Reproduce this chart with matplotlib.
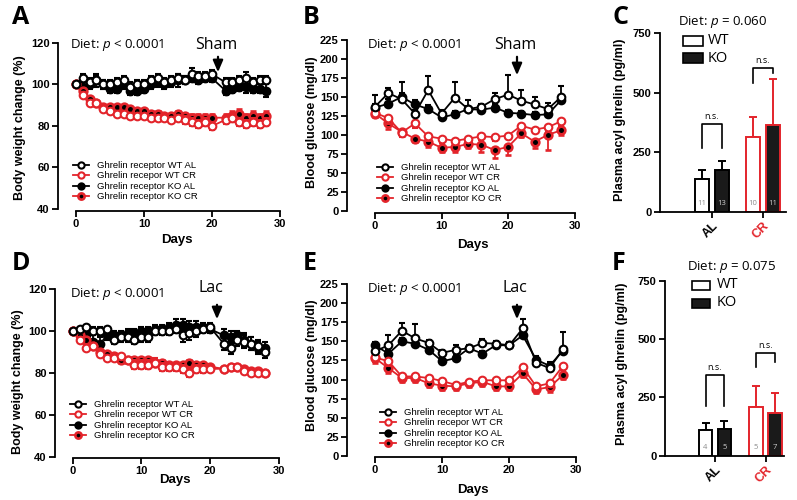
import matplotlib
matplotlib.use("Agg")
import matplotlib.pyplot as plt
from matplotlib.lines import Line2D

plt.rcParams['font.family'] = ['Liberation Sans', 'DejaVu Sans']
plt.rcParams['mathtext.fontset'] = 'custom'
plt.rcParams['mathtext.rm'] = 'Open Sans'
plt.rcParams['mathtext.it'] = 'Open Sans:italic'

RED = '#e3242b'

# ---------------- data ----------------
days_w = list(range(0, 21)) + list(range(22, 29))
days_g = list(range(0, 29, 2))

# A: body weight, sham
a_wt_al = [100, 103, 101, 102, 100, 100, 101, 102, 99, 100, 100, 102, 103, 101, 102, 103, 102, 105, 104, 104, 105,
           101, 101, 102, 103, 101, 102, 102]
a_wt_al_err = [0, 2, 2, 2, 2, 2, 2, 2, 2, 2, 2, 2, 2, 2, 2, 2, 2, 3, 2, 2, 2, 2, 2, 2, 3, 2, 2, 2]
a_ko_al = [100, 99, 100, 102, 100, 98, 98, 100, 97, 97, 98, 100, 101, 100, 101, 102, 102, 103, 102, 103, 103,
           97, 98, 99, 99, 98, 98, 97]
a_ko_al_err = [0, 2, 2, 3, 2, 2, 2, 2, 2, 2, 2, 2, 2, 2, 2, 3, 2, 2, 2, 2, 2, 2, 2, 2, 3, 2, 2, 3]
a_wt_cr = [100, 95, 91, 91, 88, 87, 86, 86, 85, 85, 85, 84, 84, 84, 83, 84, 83, 82, 81, 82, 80,
           83, 84, 82, 81, 82, 81, 82]
a_wt_cr_err = [0, 1, 1, 1, 1, 1, 1, 1, 1, 1, 1, 1, 1, 1, 1, 1, 2, 2, 2, 2, 2, 2, 2, 2, 2, 2, 2, 2]
a_ko_cr = [100, 97, 93, 91, 89, 89, 89, 89, 88, 87, 87, 86, 86, 85, 85, 86, 85, 84, 84, 84, 84,
           84, 85, 86, 84, 85, 84, 85]
a_ko_cr_err = [0, 1, 1, 1, 1, 1, 1, 1, 1, 1, 1, 1, 1, 1, 1, 1, 1, 2, 2, 2, 2, 2, 2, 2, 2, 2, 2, 2]

# B: blood glucose, sham
b_wt_al = [137, 155, 147, 128, 159, 128, 149, 134, 137, 147, 153, 145, 140, 134, 150]
b_wt_al_err = [16, 7, 22, 5, 18, 5, 21, 12, 4, 8, 26, 14, 10, 8, 14]
b_ko_al = [136, 141, 150, 140, 134, 123, 127, 134, 133, 136, 129, 128, 126, 127, 146]
b_ko_al_err = [5, 6, 5, 6, 5, 4, 4, 4, 4, 4, 4, 4, 4, 4, 5]
b_wt_cr = [129, 122, 103, 115, 98, 95, 92, 95, 98, 97, 99, 112, 107, 110, 118]
b_wt_cr_err = [6, 8, 6, 6, 6, 6, 5, 5, 5, 5, 5, 5, 5, 6, 6]
b_ko_cr = [128, 115, 104, 95, 91, 83, 84, 88, 87, 80, 84, 102, 91, 100, 106]
b_ko_cr_err = [5, 7, 5, 4, 7, 6, 6, 5, 9, 10, 11, 5, 8, 20, 6]

# C: plasma acyl ghrelin, sham
groups = ['AL', 'CR']
c_wt = [137, 315]
c_wt_err = [40, 85]
c_ko = [175, 365]
c_ko_err = [38, 195]
c_n_wt = ['11', '10']
c_n_ko = ['13', '11']

# D: body weight, lactation
d_wt_al = [100, 101, 102, 100, 100, 101, 96, 97, 97, 96, 97, 97, 100, 100, 100, 101, 98, 99, 100, 101, 102,
           94, 92, 96, 95, 94, 93, 90]
d_wt_al_err = [0, 1, 1, 2, 2, 1, 2, 2, 2, 2, 2, 2, 2, 2, 2, 2, 3, 3, 3, 2, 2, 3, 3, 3, 3, 3, 3, 3]
d_ko_al = [100, 99, 98, 95, 94, 98, 98, 98, 99, 99, 100, 100, 101, 101, 102, 103, 103, 102, 102, 102, 101,
           98, 97, 98, 96, 94, 92, 92]
d_ko_al_err = [0, 1, 2, 3, 3, 2, 2, 2, 2, 2, 2, 2, 2, 2, 2, 3, 3, 3, 3, 2, 2, 3, 3, 2, 3, 3, 3, 3]
d_wt_cr = [100, 96, 92, 93, 89, 87, 87, 88, 86, 84, 84, 84, 85, 83, 83, 83, 82, 80, 82, 82, 82,
           82, 83, 83, 81, 80, 80, 80]
d_wt_cr_err = [0, 1, 1, 1, 1, 1, 1, 1, 1, 2, 2, 2, 2, 2, 2, 2, 2, 2, 2, 2, 1, 1, 1, 1, 1, 1, 1, 1]
d_ko_cr = [100, 98, 96, 93, 90, 89, 88, 86, 86, 86, 86, 86, 85, 85, 84, 84, 84, 85, 84, 84, 83,
           82, 83, 83, 82, 81, 81, 80]
d_ko_cr_err = [0, 1, 1, 1, 1, 1, 1, 1, 1, 1, 1, 1, 1, 1, 1, 1, 1, 1, 1, 1, 1, 1, 1, 1, 1, 1, 1, 1]

# E: blood glucose, lactation
e_wt_al = [137, 145, 164, 154, 148, 135, 139, 141, 148, 147, 145, 167, 122, 115, 140]
e_wt_al_err = [5, 13, 10, 19, 4, 4, 6, 4, 5, 4, 4, 13, 8, 5, 23]
e_ko_al = [145, 134, 150, 147, 139, 124, 128, 141, 134, 145, 145, 158, 126, 118, 138]
e_ko_al_err = [4, 5, 4, 4, 4, 4, 4, 4, 4, 4, 4, 5, 5, 5, 5]
e_wt_cr = [129, 124, 104, 104, 102, 98, 93, 97, 99, 99, 99, 116, 91, 95, 118]
e_wt_cr_err = [6, 6, 5, 5, 5, 7, 6, 6, 5, 6, 6, 5, 6, 5, 6]
e_ko_cr = [128, 115, 102, 102, 95, 92, 91, 95, 97, 91, 91, 108, 87, 90, 106]
e_ko_cr_err = [6, 7, 5, 5, 5, 6, 5, 5, 5, 5, 5, 5, 5, 6, 5]

# F: plasma acyl ghrelin, lactation
f_wt = [110, 207]
f_wt_err = [30, 90]
f_ko = [115, 182]
f_ko_err = [35, 85]
f_n_wt = ['4', '5']
f_n_ko = ['5', '7']

labels = ['Ghrelin receptor WT AL', 'Ghrelin recepor WT CR',
          'Ghrelin receptor KO AL', 'Ghrelin receptor KO CR']

# ---------------- layout helpers ----------------
W, H = 797, 500
fig = plt.figure(figsize=(W / 100, H / 100), dpi=100)


def fx(x):
    return x / W


def fy(y):
    return 1 - y / H


def make_ax(box, xmap, ymap):
    l, r, t, b = box
    ax = fig.add_axes([fx(l), fy(b), (r - l) / W, (b - t) / H])
    (px0, v0), (px1, v1) = xmap
    s = (v1 - v0) / (px1 - px0)
    ax.set_xlim(v0 + (l - px0) * s, v0 + (r - px0) * s)
    (py0, w0), (py1, w1) = ymap
    s = (w1 - w0) / (py1 - py0)
    ax.set_ylim(w0 + (b - py0) * s, w0 + (t - py0) * s)
    for side in ['top', 'right']:
        ax.spines[side].set_visible(False)
    for side in ['left', 'bottom']:
        ax.spines[side].set_linewidth(1.3)
    ax.tick_params(width=1.3, length=4, labelsize=8, pad=2)
    return ax


def style_ticks(ax):
    for lbl in ax.get_xticklabels() + ax.get_yticklabels():
        lbl.set_fontweight('bold')


styles = [
    dict(color='black', mfc='white', mec='black', mew=1.5, z=4),
    dict(color=RED, mfc='white', mec=RED, mew=1.5, z=3),
    dict(color='black', mfc='black', mec='black', mew=1.5, z=2),
    dict(color=RED, mfc='black', mec=RED, mew=1.9, z=2),
]


def series(ax, x, y, err, st, updown, ms):
    if updown == 'up':
        yerr = [[0] * len(err), err]
    elif updown == 'down':
        yerr = [err, [0] * len(err)]
    else:
        yerr = err
    ax.errorbar(x, y, yerr=yerr, color=st['color'], lw=1.3, marker='o', ms=ms,
                mfc=st['mfc'], mec=st['mec'], mew=st['mew'], capsize=2.5, capthick=1.3,
                elinewidth=1.3, zorder=st['z'], clip_on=False)


def legend(ax, x, y):
    handles = [Line2D([], [], color=st['color'], lw=1.3, marker='o', ms=4.5,
                      mfc=st['mfc'], mec=st['mec'], mew=st['mew']) for st in styles]
    fig.legend(handles, labels, loc='upper left', bbox_to_anchor=(fx(x), fy(y)),
               frameon=False, handlelength=1.7, handletextpad=0.8,
               labelspacing=0.15, borderpad=0, borderaxespad=0,
               prop=dict(family='Liberation Sans', size=6.8, weight='normal'))


def note(x, y, s, size=9, **kw):
    fig.text(fx(x), fy(y), s, fontsize=size, family='Open Sans', fontweight='normal',
             va='center', **kw)


def arrow(x, y0, y1):
    fig.add_artist(matplotlib.patches.FancyArrowPatch(
        (fx(x), fy(y0)), (fx(x), fy(y1)), transform=fig.transFigure,
        arrowstyle='-|>,head_width=3,head_length=7', color='black', lw=1.6,
        mutation_scale=1))


def box_key(x, y, w, h, fc):
    fig.patches.append(matplotlib.patches.Rectangle((fx(x), fy(y + h / 2)), w / W, h / H,
                       transform=fig.transFigure, facecolor=fc, edgecolor='black', lw=1.2))


def time_panel(box, xmap, ymap, yb, yticks, x, data, updown, ms):
    ax = make_ax(box, xmap, ymap)
    ax.spines['left'].set_bounds(*yb)
    ax.spines['bottom'].set_bounds(0, 30)
    ax.set_xticks([0, 10, 20, 30])
    ax.set_yticks(yticks)
    style_ticks(ax)
    for (y, e), st, ud in zip(data, styles, updown):
        series(ax, x, y, e, st, ud, ms)
    return ax


def bar_panel(box, xmap, ymap, wt, wterr, ko, koerr, nwt, nko, brackets, off):
    ax = make_ax(box, xmap, ymap)
    ax.spines['left'].set_bounds(0, 750)
    ax.set_yticks([0, 250, 500, 750])
    ax.set_xticks([0, 1])
    ax.set_xticklabels(groups, rotation=45, ha='right', va='top',
                       rotation_mode='anchor', fontsize=9, fontweight='bold')
    ax.get_xticklabels()[1].set_color(RED)
    style_ticks(ax)
    w = 0.26
    for i in range(2):
        col = 'black' if i == 0 else RED
        ax.bar(i - off, wt[i], w, color='white', edgecolor=col, lw=1.4, zorder=2)
        ax.bar(i + off, ko[i], w, color='#1a1a1a', edgecolor=col, lw=1.4, zorder=2)
        ax.errorbar(i - off, wt[i], yerr=[[0], [wterr[i]]], color=col, capsize=3,
                    elinewidth=1.4, capthick=1.4, zorder=1)
        ax.errorbar(i + off, ko[i], yerr=[[0], [koerr[i]]], color=col, capsize=3,
                    elinewidth=1.4, capthick=1.4, zorder=1)
        ax.text(i - off, 35, nwt[i], ha='center', va='center', fontsize=5.5,
                color='#8a8a8a', family='Open Sans')
        ax.text(i + off, 35, nko[i], ha='center', va='center', fontsize=5.5,
                color='#cfcfcf', family='Open Sans')
        top, l1, l2, ty = brackets[i]
        ax.plot([i - off, i - off, i + off, i + off], [l1, top, top, l2],
                color='black', lw=1.2, clip_on=False)
        ax.text(i, ty, 'n.s.', ha='center', va='center', fontsize=6.5, family='Open Sans')
    return ax


def ylab(x, y, s):
    fig.text(fx(x), fy(y), s, rotation=90, ha='center', va='center',
             fontsize=9, fontweight='bold')


def xlab(x, y, s):
    fig.text(fx(x), fy(y), s, ha='center', va='center', fontsize=9.5, fontweight='bold')


# ---------------- A ----------------
ax = time_panel((58, 283, 41, 211), ((76, 0), (212, 20)), ((209, 40), (43, 120)),
                (40, 120), [40, 60, 80, 100, 120], days_w,
                [(a_wt_al, a_wt_al_err), (a_wt_cr, a_wt_cr_err),
                 (a_ko_al, a_ko_al_err), (a_ko_cr, a_ko_cr_err)],
                ['both', 'both', 'both', 'both'], 5.5)
legend(ax, 73, 161)
ylab(20, 128, 'Body weight change (%)')
xlab(177, 240, 'Days')
note(70, 45, r'Diet: $\it{p}$ < 0.0001', 9.5)
note(216, 45, 'Sham', 11.5, ha='center')
arrow(218, 54, 75)

# ---------------- B ----------------
ax = time_panel((347, 577, 38, 213), ((375, 0), (508, 20)), ((210.7, 0), (40, 225)),
                (0, 225), list(range(0, 226, 25)), days_g,
                [(b_wt_al, b_wt_al_err), (b_wt_cr, b_wt_cr_err),
                 (b_ko_al, b_ko_al_err), (b_ko_cr, b_ko_cr_err)],
                ['up', 'down', 'up', 'down'], 5.5)
legend(ax, 377, 163)
ylab(312, 122, 'Blood glucose (mg/dl)')
xlab(473, 245, 'Days')
note(367, 45, r'Diet: $\it{p}$ < 0.0001', 9.5)
note(515, 45, 'Sham', 11.5, ha='center')
arrow(517, 54, 78)

# ---------------- C ----------------
bar_panel((660, 786, 30, 212), ((712, 0), (763, 1)), ((212, 0), (33.3, 750)),
          c_wt, c_wt_err, c_ko, c_ko_err, c_n_wt, c_n_ko,
          [(369, 268, 268, 400), (603, 540, 582, 636)], 0.196)
ylab(620, 120, 'Plasma acyl ghrelin (pg/ml)')
note(678, 22, r'Diet: $\it{p}$ = 0.060', 9.5)
box_key(683, 41, 20, 9, 'white')
box_key(683, 58, 20, 9, '#1a1a1a')
note(708, 41, 'WT', 10.5)
note(708, 58, 'KO', 10.5)

# ---------------- D ----------------
ax = time_panel((55, 282, 287, 458), ((72.7, 0), (210, 20)), ((456.7, 40), (289.3, 120)),
                (40, 120), [40, 60, 80, 100, 120], days_w,
                [(d_wt_al, d_wt_al_err), (d_wt_cr, d_wt_cr_err),
                 (d_ko_al, d_ko_al_err), (d_ko_cr, d_ko_cr_err)],
                ['both', 'both', 'both', 'both'], 5.5)
legend(ax, 70, 400)
ylab(18, 382, 'Body weight change (%)')
xlab(175, 480, 'Days')
note(70, 294, r'Diet: $\it{p}$ < 0.0001', 9.5)
note(211, 288, 'Lac', 11.5, ha='center')
arrow(217, 302, 322)

# ---------------- E ----------------
ax = time_panel((347, 577, 282, 457), ((375, 0), (509.3, 20)), ((455.7, 0), (284.3, 225)),
                (0, 225), list(range(0, 226, 25)), days_g,
                [(e_wt_al, e_wt_al_err), (e_wt_cr, e_wt_cr_err),
                 (e_ko_al, e_ko_al_err), (e_ko_cr, e_ko_cr_err)],
                ['up', 'down', 'up', 'down'], 5.5)
legend(ax, 380, 408)
ylab(312, 365, 'Blood glucose (mg/dl)')
xlab(473, 490, 'Days')
note(367, 289, r'Diet: $\it{p}$ < 0.0001', 9.5)
note(515, 288, 'Lac', 11.5, ha='center')
arrow(517, 302, 322)

# ---------------- F ----------------
bar_panel((665, 784, 278, 456), ((715, 0), (765.5, 1)), ((455.7, 0), (280.7, 750)),
          f_wt, f_wt_err, f_ko, f_ko_err, f_n_wt, f_n_ko,
          [(346, 215, 215, 378), (441, 381, 403, 474)], 0.188)
ylab(622, 364, 'Plasma acyl ghrelin (pg/ml)')
note(687, 267, r'Diet: $\it{p}$ = 0.075', 9.5)
box_key(692, 285, 18, 9, 'white')
box_key(692, 303, 18, 9, '#1a1a1a')
note(717, 285, 'WT', 10.5)
note(717, 303, 'KO', 10.5)

# panel letters
for x, y, s in [(12, 17, 'A'), (303, 17, 'B'), (612, 17, 'C'),
                (12, 263, 'D'), (303, 263, 'E'), (612, 263, 'F')]:
    fig.text(fx(x), fy(y), s, fontsize=18, fontweight='bold', family='Open Sans', va='center')

fig.savefig('out.png', dpi=100)
